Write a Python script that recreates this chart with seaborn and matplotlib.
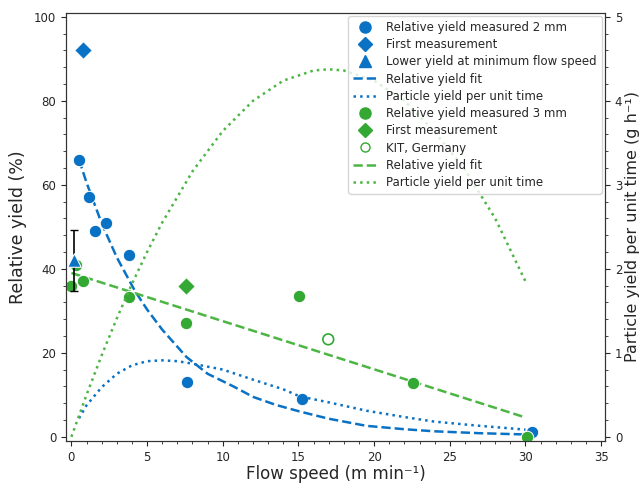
import numpy as np
import pandas as pd
import matplotlib
matplotlib.use("Agg")
import matplotlib.pyplot as plt
from matplotlib.ticker import AutoMinorLocator
from matplotlib.lines import Line2D
import seaborn as sns

sns.set_style("ticks")
plt.rcParams['font.family'] = ['DejaVu Sans']

blue = '#0a72c4'
green = '#33a833'
green_line = '#4cb544'

# 2 mm nozzle
x_2mm = [0.5, 1.14, 1.55, 2.28, 3.82, 7.64, 15.23, 30.46]
y_2mm = [66, 57, 49, 51, 43.2, 13, 9.0, 1.1]
x_first_2mm = [0.74]
y_first_2mm = [92]
x_low = [0.15]
y_low = [42]
err_low = [7.2]

fit2_x = [0.5, 1, 2, 3, 4.2, 5, 6, 7.6, 9, 10.7, 12, 13.5, 15.1, 17, 19.5, 22, 24, 27, 30]
fit2_y = [66, 60.5, 50.8, 42.7, 34.7, 30.3, 25.5, 19.0, 15.0, 12.0, 9.5, 7.6, 6.0, 4.3, 2.6, 1.8, 1.3, 0.85, 0.55]
rate2_x = [0.5, 1, 2, 3, 4, 5, 6, 7, 8, 10, 12, 14, 15.1, 17, 19.5, 22, 24, 27, 30]
rate2_y = [0.22, 0.375, 0.59, 0.75, 0.85, 0.90, 0.91, 0.90, 0.87, 0.80, 0.68, 0.565, 0.48, 0.41, 0.31, 0.235, 0.18, 0.13, 0.085]

# 3 mm nozzle
x_3mm = [0.0, 0.3, 0.78, 3.78, 7.55, 15.06, 22.55, 30.08]
y_3mm = [36, 41, 37, 33.2, 27.1, 33.5, 12.9, 0]
x_first_3mm = [7.55]
y_first_3mm = [36]
x_kit = [16.97]
y_kit = [23.2]

fit3_x = [0, 30]
fit3_y = [39, 4.6]
rate3_x = [0, 1, 2, 3, 4, 5, 6, 8, 10, 12, 14, 16, 17, 18, 20, 22, 24, 26, 28, 30]
rate3_y = [0, 0.50, 0.97, 1.41, 1.82, 2.20, 2.55, 3.16, 3.64, 4.00, 4.24, 4.36, 4.375, 4.36, 4.24, 4.0, 3.63, 3.18, 2.6, 1.85]

fig = plt.figure(figsize=(6.43, 4.83), dpi=100)
ax = fig.add_axes([0.1026, 0.087, 0.8384, 0.887])
ax2 = ax.twinx()

lw = 1.8
ms = 80

sns.lineplot(x=fit2_x, y=fit2_y, ax=ax, color=blue, linestyle='--', linewidth=lw, estimator=None, sort=False)
sns.lineplot(x=fit3_x, y=fit3_y, ax=ax, color=green_line, linestyle='--', linewidth=lw, estimator=None, sort=False)

sns.scatterplot(x=x_2mm, y=y_2mm, ax=ax, color=blue, marker='o', s=ms, zorder=4)
sns.scatterplot(x=x_first_2mm, y=y_first_2mm, ax=ax, color=blue, marker='D', s=ms, zorder=4)
sns.scatterplot(x=x_3mm, y=y_3mm, ax=ax, color=green, marker='o', s=ms, zorder=4)
sns.scatterplot(x=x_first_3mm, y=y_first_3mm, ax=ax, color=green, marker='D', s=ms, zorder=4)
ax.scatter(x_kit, y_kit, s=60, facecolors='none', edgecolors=green, linewidths=1.2, zorder=4)

# low-yield point with its error bar, on top of the green points
ax.errorbar(x_low, y_low, yerr=err_low, fmt='none', ecolor='black', elinewidth=1.2, capsize=3, zorder=5)
sns.scatterplot(x=x_low, y=y_low, ax=ax, color=blue, marker='^', s=95, zorder=6)

sns.lineplot(x=rate2_x, y=rate2_y, ax=ax2, color=blue, linestyle=':', linewidth=lw, estimator=None, sort=False)
sns.lineplot(x=rate3_x, y=rate3_y, ax=ax2, color=green_line, linestyle=':', linewidth=lw, estimator=None, sort=False)

ax.set_xlim(-0.36, 35.26)
ax.set_ylim(-1, 101)
ax2.set_ylim(-0.05, 5.05)
ax.set_xticks(range(0, 36, 5))
ax.set_yticks(range(0, 101, 20))
ax2.set_yticks(range(0, 6))
for a in (ax, ax2):
    a.xaxis.set_minor_locator(AutoMinorLocator(5))
    a.yaxis.set_minor_locator(AutoMinorLocator(5))
    a.tick_params(labelsize=8.5, colors='.15')
    for s in a.spines.values():
        s.set_color('.2')

ax.set_xlabel('Flow speed (m min⁻¹)', fontsize=12, labelpad=1)
ax.set_ylabel('Relative yield (%)', fontsize=12.5, labelpad=5)
ax2.set_ylabel('Particle yield per unit time (g h⁻¹)', fontsize=11.5, labelpad=2)

handles = [
    Line2D([], [], color=blue, marker='o', linestyle='none', markersize=8),
    Line2D([], [], color=blue, marker='D', linestyle='none', markersize=7),
    Line2D([], [], color=blue, marker='^', linestyle='none', markersize=8.5),
    Line2D([], [], color=blue, linestyle='--', linewidth=lw),
    Line2D([], [], color=blue, linestyle=':', linewidth=lw),
    Line2D([], [], color=green, marker='o', linestyle='none', markersize=8),
    Line2D([], [], color=green, marker='D', linestyle='none', markersize=7),
    Line2D([], [], color=green, marker='o', markerfacecolor='none', linestyle='none', markersize=6.5),
    Line2D([], [], color=green_line, linestyle='--', linewidth=lw),
    Line2D([], [], color=green_line, linestyle=':', linewidth=lw),
]
labels = ['Relative yield measured 2 mm', 'First measurement', 'Lower yield at minimum flow speed',
          'Relative yield fit', 'Particle yield per unit time',
          'Relative yield measured 3 mm', 'First measurement', 'KIT, Germany',
          'Relative yield fit', 'Particle yield per unit time']
ax2.legend(handles, labels, loc='upper right', fontsize=8.5, frameon=True, framealpha=0.8,
           borderaxespad=0.3, labelspacing=0.36, handlelength=2.0)

fig.savefig('out.png', dpi=100)
